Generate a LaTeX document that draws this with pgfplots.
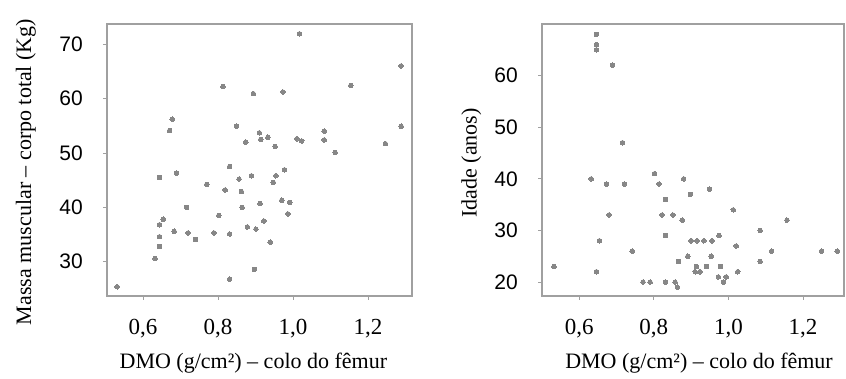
\documentclass[border=0pt]{standalone}
\usepackage{fontspec}
\setmainfont{Liberation Serif}
\newfontfamily\ticksans{Liberation Sans}
\usepackage{pgfplots}
\pgfplotsset{compat=1.18}

\definecolor{framegray}{RGB}{160,160,160}
\definecolor{dotgray}{RGB}{135,135,135}

\pgfplotsset{
  densityplot/.style={
    scale only axis,
    height=272pt,
    axis line style={framegray, line width=1.6pt},
    tick style={framegray, line width=0.8pt},
    major tick length=4pt,
    tick align=outside,
    xtick pos=bottom,
    ytick pos=left,
    xtick={0.6,0.8,1.0,1.2},
    /pgf/number format/assume math mode=true,
    xticklabel style={font=\fontsize{23}{23}\selectfont, anchor=base, inner sep=0pt,
      yshift=-35pt, /pgf/number format/.cd, fixed, fixed zerofill, precision=1, use comma},
    yticklabel style={font=\ticksans\fontsize{21}{21}\selectfont, anchor=east, inner sep=0pt,
      xshift=-20pt, /pgf/number format/.cd, fixed, precision=0},
    label style={font=\fontsize{22}{22}\selectfont},
    scaled ticks=false,
    clip=false,
  },
  dots/.style={only marks, color=dotgray, mark=*, mark size=2.3pt,
    mark options={draw=dotgray, fill=dotgray, line width=0pt}},
}

\begin{document}
\begin{tikzpicture}
\path[use as bounding box] (0,0) rectangle (846pt,379pt);

% Bone density vs. total-body muscle mass
\begin{axis}[densityplot,
  at={(107pt,83pt)}, anchor=south west,
  width=305pt,
  xmin=0.504, xmax=1.317,
  ymin=23.7, ymax=73.7,
  ytick={30,40,50,60,70},
  xlabel={DMO (g/cm²) -- colo do fêmur},
  ylabel={Massa muscular -- corpo total (Kg)},
  xlabel style={at={(axis description cs:0.48,-0.246)}, anchor=center},
  ylabel style={at={(axis description cs:-0.266,0.456)}, anchor=center, rotate=0},
]
\addplot[dots] table {
x y
1.017 71.9
0.813 62.2
0.894 60.9
0.973 61.2
0.678 56.2
0.671 54.1
0.849 54.9
0.910 53.7
0.914 52.5
0.933 52.9
0.874 52.0
0.952 51.2
1.010 52.6
1.023 52.2
1.288 66.0
1.154 62.4
1.083 54.0
1.083 52.4
1.112 50.1
1.246 51.7
1.288 54.9
0.831 47.5
0.644 45.5
0.689 46.3
0.770 44.2
0.856 45.2
0.889 45.8
0.954 45.8
0.947 44.6
0.977 46.9
0.819 43.2
0.862 42.9
0.716 40.0
0.864 40.0
0.912 40.7
0.970 41.3
0.991 40.9
0.986 38.8
0.802 38.5
0.654 37.8
0.644 36.8
0.922 37.5
0.878 36.4
0.901 36.0
0.683 35.6
0.720 35.3
0.789 35.3
0.831 35.1
0.740 34.1
0.644 34.6
0.644 32.8
0.939 33.6
0.632 30.6
0.897 28.6
0.831 26.8
0.531 25.4
};
\end{axis}

% Bone density vs. age
\begin{axis}[densityplot,
  at={(542pt,83pt)}, anchor=south west,
  width=302pt,
  xmin=0.5, xmax=1.31,
  ymin=17.3, ymax=70,
  ytick={20,30,40,50,60},
  xlabel={DMO (g/cm²) -- colo do fêmur},
  ylabel={Idade (anos)},
  xlabel style={at={(axis description cs:0.52,-0.246)}, anchor=center},
  ylabel style={at={(axis description cs:-0.234,0.489)}, anchor=center, rotate=0},
]
\addplot[dots] table {
x y
0.646 68
0.646 66
0.646 65
0.689 62
0.716 47
0.632 40
0.673 39
0.721 39
0.802 41
0.814 39
0.880 40
0.898 37
0.949 38
0.831 36
0.680 33
0.680 33
0.822 33
0.851 33
0.876 32
1.013 34
1.157 32
1.085 30
0.831 29
0.975 29
0.654 28
0.900 28
0.900 28
0.916 28
0.934 28
0.956 28
1.021 27
0.742 26
1.116 26
1.250 26
1.292 26
0.891 25
0.954 25
0.866 24
1.085 24
0.532 23
0.914 23
0.941 23
0.979 23
0.646 22
0.911 22
0.924 22
1.025 22
0.973 21
0.994 21
0.771 20
0.790 20
0.831 20
0.857 20
0.863 19
0.987 20
};
\end{axis}
\end{tikzpicture}
\end{document}
